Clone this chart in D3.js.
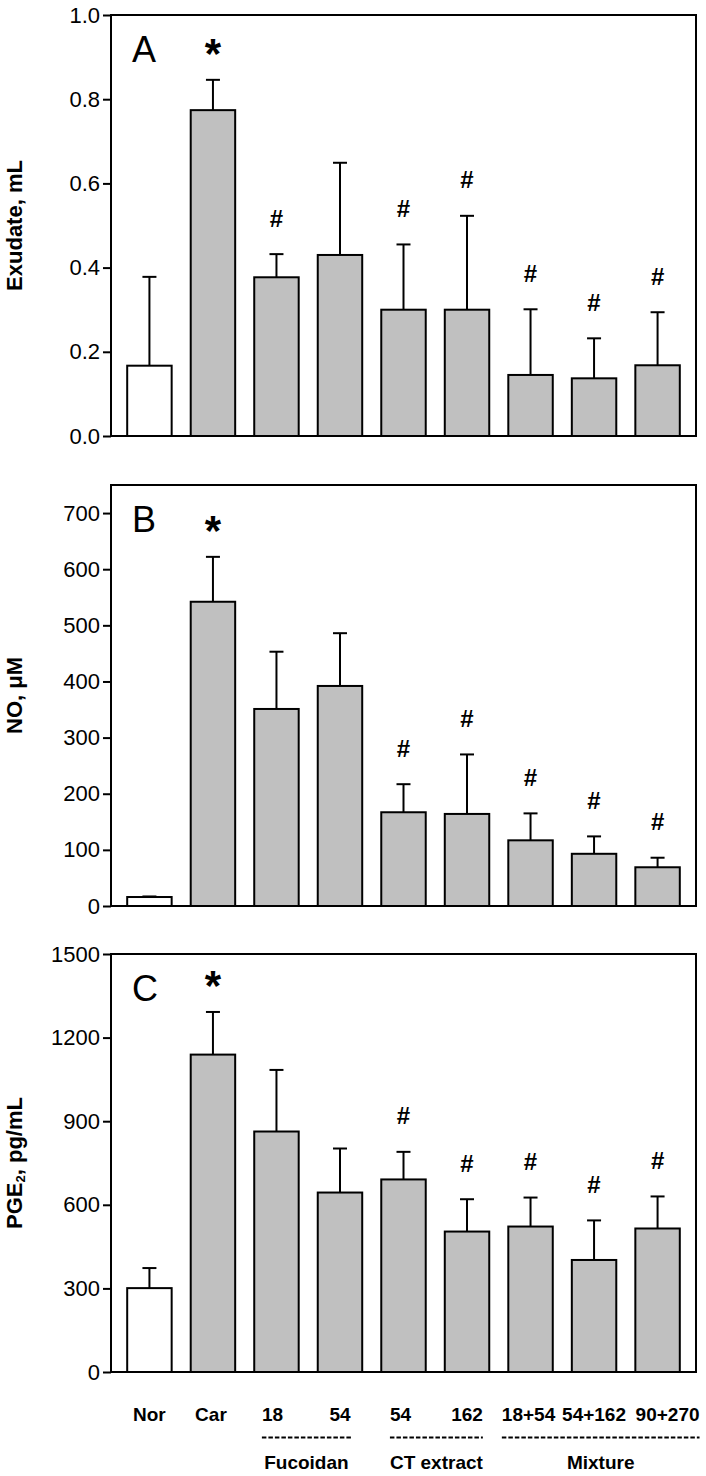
<!DOCTYPE html>
<html>
<head>
<meta charset="utf-8">
<script src="https://cdn.jsdelivr.net/npm/d3@7"></script>
<style>
  html, body { margin: 0; padding: 0; background: #fff; }
  svg { display: block; }
  text { font-family: Arial, "Liberation Sans", sans-serif; fill: #000; }
</style>
</head>
<body>
<svg id="chart" width="706" height="1476"></svg>
<script>
// ---------------- data ----------------
const categories = ["Nor", "Car", "18", "54", "54", "162", "18+54", "54+162", "90+270"];
const barFills = ["#ffffff", "#c0c0c0", "#c0c0c0", "#c0c0c0", "#c0c0c0", "#c0c0c0", "#c0c0c0", "#c0c0c0", "#c0c0c0"];

const exudateMean = [0.167, 0.774, 0.377, 0.430, 0.300, 0.300, 0.145, 0.137, 0.168];
const exudateSD   = [0.211, 0.072, 0.055, 0.219, 0.155, 0.223, 0.156, 0.095, 0.126];
const exudateSig  = ["", "*", "#", "", "#", "#", "#", "#", "#"];
const exudateTicks = [0.0, 0.2, 0.4, 0.6, 0.8, 1.0];

const noMean = [16, 542, 351, 392, 167, 164, 117, 93, 69];
const noSD   = [1, 80, 102, 94, 50, 106, 48, 31, 17];
const noSig  = ["", "*", "", "", "#", "#", "#", "#", "#"];
const noTicks = [0, 100, 200, 300, 400, 500, 600, 700];

const pgeMean = [301, 1139, 863, 644, 691, 504, 522, 402, 515];
const pgeSD   = [72, 153, 221, 158, 99, 116, 104, 142, 115];
const pgeSig  = ["", "*", "", "", "#", "#", "#", "#", "#"];
const pgeTicks = [0, 300, 600, 900, 1200, 1500];

const groupNames = ["Fucoidan", "CT extract", "Mixture"];
const groupFirst = [2, 4, 6];
const groupLast  = [3, 5, 8];

// ---------------- layout ----------------
const svg = d3.select("#chart");
const left = 111, right = 696;
const panels = [
  { letter: "A", title: "Exudate, mL", mean: exudateMean, sd: exudateSD, sig: exudateSig, ticks: exudateTicks, max: 1.0, fmt: d3.format(".1f"), top: 15, bottom: 436 },
  { letter: "B", title: "NO, \u03bcM", mean: noMean, sd: noSD, sig: noSig, ticks: noTicks, max: 750, fmt: d3.format("d"), top: 485, bottom: 906 },
  { letter: "C", title: "PGE", sub: "2", titleRest: ", pg/mL", mean: pgeMean, sd: pgeSD, sig: pgeSig, ticks: pgeTicks, max: 1500, fmt: d3.format("d"), top: 954, bottom: 1372 }
];

const x = d3.scaleBand()
  .domain(d3.range(categories.length))
  .range([left, right])
  .paddingInner(0.3)
  .paddingOuter(0.255);

panels.forEach(p => {
  const y = d3.scaleLinear().domain([0, p.max]).range([p.bottom, p.top]);
  const g = svg.append("g");

  // y axis
  const ax = g.append("g")
    .attr("transform", `translate(${left},0)`)
    .call(d3.axisLeft(y).tickValues(p.ticks).tickFormat(p.fmt).tickSize(8).tickPadding(3));
  ax.select(".domain").remove();
  ax.selectAll(".tick line").attr("stroke", "#000").attr("stroke-width", 2);
  ax.selectAll(".tick text")
    .style("font-family", 'Arial, "Liberation Sans", sans-serif')
    .style("font-size", "22px")
    .attr("fill", "#000");

  // y title
  const cy = (p.top + p.bottom) / 2;
  const t = g.append("text")
    .attr("transform", `translate(14,${cy}) rotate(-90)`)
    .attr("text-anchor", "middle")
    .attr("dominant-baseline", "central")
    .style("font-size", "22px")
    .style("font-weight", "bold");
  t.append("tspan").text(p.title);
  if (p.sub) {
    t.append("tspan").text(p.sub).style("font-size", "13px").attr("dy", 6);
    t.append("tspan").text(p.titleRest).attr("dy", -6);
  }

  // error bars
  const idx = d3.range(categories.length);
  const capHalf = 7;
  const eg = g.append("g").attr("stroke", "#000").attr("stroke-width", 2);
  idx.forEach(i => {
    const cx = x(i) + x.bandwidth() / 2;
    const y0 = y(p.mean[i]);
    const y1 = y(p.mean[i] + p.sd[i]);
    eg.append("line").attr("x1", cx).attr("x2", cx).attr("y1", y0).attr("y2", y1);
    eg.append("line").attr("x1", cx - capHalf).attr("x2", cx + capHalf).attr("y1", y1).attr("y2", y1);
  });

  // bars
  g.append("g").selectAll("rect")
    .data(idx)
    .join("rect")
    .attr("x", i => x(i))
    .attr("width", x.bandwidth())
    .attr("y", i => y(p.mean[i]))
    .attr("height", i => y(0) - y(p.mean[i]))
    .attr("fill", i => barFills[i])
    .attr("stroke", "#000")
    .attr("stroke-width", 2);

  // significance markers
  idx.forEach(i => {
    if (!p.sig[i]) return;
    const cx = x(i) + x.bandwidth() / 2;
    const yTop = y(p.mean[i] + p.sd[i]);
    const isStar = p.sig[i] === "*";
    g.append("text")
      .attr("x", cx)
      .attr("y", isStar ? yTop - 11.5 : yTop - 27.5)
      .attr("text-anchor", "middle")
      .style("font-weight", "bold")
      .style("font-size", isStar ? "42px" : "24px")
      .text(p.sig[i]);
  });

  // frame
  g.append("rect")
    .attr("x", left).attr("y", p.top)
    .attr("width", right - left).attr("height", p.bottom - p.top)
    .attr("fill", "none").attr("stroke", "#000").attr("stroke-width", 2);

  // panel letter
  g.append("text")
    .attr("x", 132).attr("y", p.top + 46.5)
    .style("font-size", "36px")
    .text(p.letter);
});

// ---------------- category labels ----------------
const labelDx = [0, -2, -4, 0, -3, 0, -2, 0, 10];
const labelY = 1421;
const labels = svg.append("g").selectAll("text")
  .data(d3.range(categories.length))
  .join("text")
  .attr("x", i => x(i) + x.bandwidth() / 2 + labelDx[i])
  .attr("y", labelY)
  .attr("text-anchor", "middle")
  .style("font-size", "19px")
  .style("font-weight", "bold")
  .text(i => categories[i]);

const nodes = labels.nodes();
groupNames.forEach((name, k) => {
  const b0 = nodes[groupFirst[k]].getBBox();
  const b1 = nodes[groupLast[k]].getBBox();
  const x0 = b0.x, x1 = b1.x + b1.width;
  svg.append("line")
    .attr("x1", x0).attr("x2", x1)
    .attr("y1", 1437.5).attr("y2", 1437.5)
    .attr("stroke", "#000").attr("stroke-width", 2)
    .attr("stroke-dasharray", "4.5,2");
  svg.append("text")
    .attr("x", (x0 + x1) / 2).attr("y", 1469)
    .attr("text-anchor", "middle")
    .style("font-size", "19px")
    .style("font-weight", "bold")
    .text(name);
});
</script>
</body>
</html>
